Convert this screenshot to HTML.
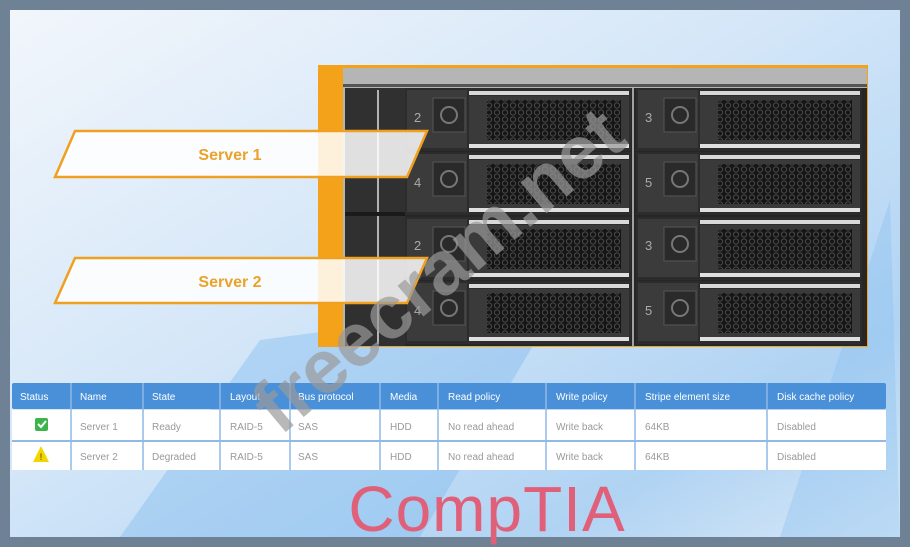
<!DOCTYPE html>
<html><head><meta charset="utf-8"><style>
html,body{margin:0;padding:0;width:910px;height:547px;overflow:hidden;background:#6f8194;}
svg{display:block}
text{font-family:"Liberation Sans",sans-serif}
</style></head><body>
<svg width="910" height="547" viewBox="0 0 910 547" xmlns="http://www.w3.org/2000/svg">
<defs>
<linearGradient id="bg" x1="0" y1="0" x2="1" y2="1">
<stop offset="0" stop-color="#f2f6fb"/><stop offset="0.45" stop-color="#d3e6f8"/><stop offset="0.8" stop-color="#b0d3f3"/><stop offset="1" stop-color="#d7e8f7"/>
</linearGradient>
<pattern id="hex" width="8" height="7" patternUnits="userSpaceOnUse">
<rect width="8" height="7" fill="#151515"/><circle cx="4" cy="3.5" r="2.6" fill="none" stroke="#4a4a4a" stroke-width="1"/>
</pattern>
<g id="bay">
<rect x="0" y="0" width="226" height="63" fill="#2c2c2c"/>
<rect x="2" y="2" width="60" height="58" fill="#3b3b3b"/>
<rect x="28" y="10" width="32" height="34" fill="#2a2a2a" stroke="#555"/>
<circle cx="44" cy="27" r="8" fill="none" stroke="#777" stroke-width="2"/>
<rect x="64" y="3" width="160" height="4" fill="#d8d8d8"/>
<rect x="64" y="8" width="160" height="48" fill="#3a3a3a"/>
<rect x="82" y="12" width="134" height="40" fill="url(#hex)"/>
<rect x="64" y="56" width="160" height="4" fill="#e0e0e0"/>
</g>
</defs>
<rect x="10" y="10" width="890" height="527" fill="url(#bg)"/>
<polygon points="120,537 260,340 560,300 420,537" fill="#7db8ee" opacity="0.4"/>
<polygon points="780,537 890,200 900,537" fill="#7db8ee" opacity="0.3"/>
<!-- server -->
<rect x="318" y="65" width="550" height="282" fill="#f3a21a"/>
<rect x="343" y="68" width="524" height="278" fill="#b5b5b5"/>
<rect x="343" y="84" width="524" height="3" fill="#555"/>
<rect x="345" y="88" width="522" height="258" fill="#262626"/>
<rect x="345" y="88" width="60" height="258" fill="#303030"/>
<line x1="378" y1="90" x2="378" y2="344" stroke="#ddd" stroke-width="1.5"/>
<rect x="345" y="212" width="60" height="4" fill="#1a1a1a"/>
<use href="#bay" x="405" y="88"/>
<use href="#bay" x="405" y="152"/>
<use href="#bay" x="405" y="217"/>
<use href="#bay" x="405" y="281"/>
<use href="#bay" x="636" y="88"/>
<use href="#bay" x="636" y="152"/>
<use href="#bay" x="636" y="217"/>
<use href="#bay" x="636" y="281"/>
<line x1="633" y1="88" x2="633" y2="346" stroke="#ccc" stroke-width="1.5"/>
<g fill="#aaa" font-size="13">
<text x="414" y="122">2</text><text x="414" y="187">4</text><text x="414" y="250">2</text><text x="414" y="315">4</text>
<text x="645" y="122">3</text><text x="645" y="187">5</text><text x="645" y="250">3</text><text x="645" y="315">5</text>
</g>
<!-- banners -->
<polygon points="75,131 427,131 407,177 55,177" fill="#ffffff" fill-opacity="0.85" stroke="#f0a020" stroke-width="2.5"/>
<polygon points="75,258 427,258 407,303 55,303" fill="#ffffff" fill-opacity="0.85" stroke="#f0a020" stroke-width="2.5"/>
<text x="230" y="160" font-size="16" font-weight="bold" fill="#eaa22a" text-anchor="middle">Server 1</text>
<text x="230" y="287" font-size="16" font-weight="bold" fill="#eaa22a" text-anchor="middle">Server 2</text>
<!-- table -->
<rect x="12" y="383" width="874" height="26" fill="#4a90d9" rx="2"/>
<rect x="12" y="410" width="874" height="60" fill="#ffffff"/>
<line x1="12" y1="441" x2="886" y2="441" stroke="#8fb9e6" stroke-width="2"/>
<g stroke="#8fb9e6" stroke-width="1.5">
<line x1="71" y1="383" x2="71" y2="470"/><line x1="143" y1="383" x2="143" y2="470"/><line x1="220" y1="383" x2="220" y2="470"/>
<line x1="290" y1="383" x2="290" y2="470"/><line x1="380" y1="383" x2="380" y2="470"/><line x1="438" y1="383" x2="438" y2="470"/>
<line x1="546" y1="383" x2="546" y2="470"/><line x1="635" y1="383" x2="635" y2="470"/><line x1="767" y1="383" x2="767" y2="470"/>
</g>
<g font-size="10" fill="#ffffff">
<text x="20" y="400">Status</text><text x="80" y="400">Name</text><text x="152" y="400">State</text><text x="230" y="400">Layout</text>
<text x="298" y="400">Bus protocol</text><text x="390" y="400">Media</text><text x="448" y="400">Read policy</text>
<text x="556" y="400">Write policy</text><text x="645" y="400">Stripe element size</text><text x="777" y="400">Disk cache policy</text>
</g>
<g font-size="10" fill="#999">
<text x="80" y="430">Server 1</text><text x="152" y="430">Ready</text><text x="230" y="430">RAID-5</text><text x="298" y="430">SAS</text>
<text x="390" y="430">HDD</text><text x="448" y="430">No read ahead</text><text x="556" y="430">Write back</text><text x="645" y="430">64KB</text><text x="777" y="430">Disabled</text>
<text x="80" y="460">Server 2</text><text x="152" y="460">Degraded</text><text x="230" y="460">RAID-5</text><text x="298" y="460">SAS</text>
<text x="390" y="460">HDD</text><text x="448" y="460">No read ahead</text><text x="556" y="460">Write back</text><text x="645" y="460">64KB</text><text x="777" y="460">Disabled</text>
</g>
<rect x="35" y="418" width="13" height="13" rx="2" fill="#3cb44a"/>
<path d="M38 424 l3 3 l5 -6" stroke="#fff" stroke-width="2" fill="none"/>
<polygon points="41,446 49,462 33,462" fill="#f2d600"/>
<text x="41" y="460" font-size="9" font-weight="bold" fill="#8a6a00" text-anchor="middle">!</text>
<!-- logo -->
<text x="487" y="531" font-size="64" fill="#e0607a" text-anchor="middle" letter-spacing="1">CompTIA</text>
<!-- watermark -->
<text x="455" y="290" font-size="76" font-weight="bold" fill="#9a9a9a" fill-opacity="0.7" text-anchor="middle" transform="rotate(-40 455 290)">freecram.net</text>
</svg>
</body></html>
